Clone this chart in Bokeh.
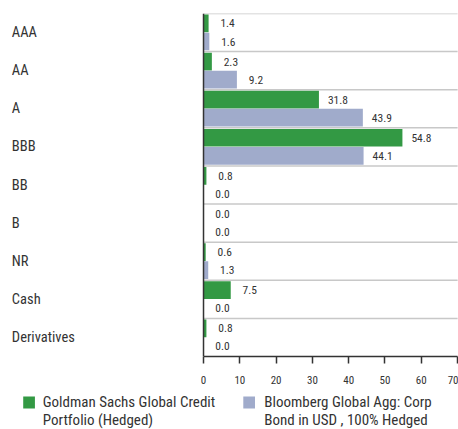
from bokeh.plotting import figure
from bokeh.models import ColumnDataSource, FixedTicker, Span
from bokeh.layouts import column
from bokeh.transform import dodge
from bokeh.core.properties import value
from bokeh.embed import file_html
from bokeh.resources import INLINE

categories = ["AAA", "AA", "A", "BBB", "BB", "B", "NR", "Cash", "Derivatives"]
gs_values = [1.4, 2.3, 31.8, 54.8, 0.8, 0.0, 0.6, 7.5, 0.8]
bb_values = [1.6, 9.2, 43.9, 44.1, 0.0, 0.0, 1.3, 0.0, 0.0]
x_ticks = [0, 10, 20, 30, 40, 50, 60, 70]
series_names = ["Goldman Sachs Global Credit\nPortfolio (Hedged)",
                "Bloomberg Global Agg: Corp\nBond in USD , 100% Hedged"]

GREEN = "#339944"
BLUE = "#a0abcb"
series_colors = [GREEN, BLUE]
FONT = "Roboto Condensed"
TXT = "#333333"

x_start, x_end = -52.9, 70.25

src = ColumnDataSource(dict(
    cat=categories,
    gs=gs_values,
    bb=bb_values,
    gs_lbl=["%.1f" % v for v in gs_values],
    bb_lbl=["%.1f" % v for v in bb_values],
    zero=[0] * len(categories),
    right=[x_ticks[-1]] * len(categories),
    lx=[x_start + 0.1] * len(categories),
))

p = figure(width=458, height=386, y_range=list(reversed(categories)),
           x_range=(x_start, x_end), output_backend="svg", toolbar_location=None,
           min_border_left=11, min_border_right=0, min_border_top=13, min_border_bottom=0)
p.outline_line_color = None
p.xgrid.visible = False
p.ygrid.visible = False
p.yaxis.visible = False

# separators between categories
p.segment(x0="zero", x1="right", y0=dodge("cat", 0.5, range=p.y_range),
          y1=dodge("cat", 0.5, range=p.y_range), source=src,
          line_color="#c8c8c8", line_width=1.5)

p.hbar(y=dodge("cat", 0.24, range=p.y_range), left=0, right="gs", height=0.465,
       source=src, fill_color=GREEN, line_color=None)
p.hbar(y=dodge("cat", -0.235, range=p.y_range), left=0, right="bb", height=0.465,
       source=src, fill_color=BLUE, line_color=None)

p.text(x="gs", y=dodge("cat", 0.24, range=p.y_range), text="gs_lbl", source=src,
       x_offset=19, text_align="center", text_baseline="middle",
       text_font=value(FONT), text_font_size="11.5px", text_color=TXT)
p.text(x="bb", y=dodge("cat", -0.235, range=p.y_range), text="bb_lbl", source=src,
       x_offset=19, text_align="center", text_baseline="middle",
       text_font=value(FONT), text_font_size="11.5px", text_color=TXT)

p.text(x="lx", y="cat", text="cat", source=src, text_align="left",
       text_baseline="middle", text_font=value(FONT), text_font_size="14.5px",
       text_color=TXT)

p.add_layout(Span(location=0, dimension="height", line_color=TXT, line_width=1.5))

ax = p.xaxis[0]
ax.ticker = FixedTicker(ticks=x_ticks)
ax.bounds = (0, x_ticks[-1])
ax.axis_line_color = TXT
ax.axis_line_width = 1.5
ax.major_tick_line_color = TXT
ax.major_tick_line_width = 1.5
ax.major_tick_out = 7
ax.major_tick_in = 0
ax.minor_tick_line_color = None
ax.major_label_text_font = FONT
ax.major_label_text_font_size = "11px"
ax.major_label_text_color = TXT
ax.major_label_standoff = 12

# legend as its own small figure below the chart
W, H = 458, 43
lg = figure(width=W, height=H, x_range=(0, W), y_range=(0, H), output_backend="svg",
            toolbar_location=None, min_border=0)
lg.outline_line_color = None
lg.axis.visible = False
lg.grid.visible = False
lsrc = ColumnDataSource(dict(
    name=series_names,
    color=series_colors,
    sx=[18, 243.5],
    tx=[32, 259],
    sy=[H - 16, H - 16],
    ty=[H - 6, H - 6],
))
lg.rect(x="sx", y="sy", width=12, height=12, fill_color="color", line_color=None, source=lsrc)
lg.text(x="tx", y="ty", text="name", source=lsrc, text_align="left", text_baseline="top",
        text_font=value(FONT), text_font_size="15px", text_color=TXT,
        text_line_height=1.0)

open("out.html", "w").write(file_html(column(p, lg, spacing=0), INLINE))
